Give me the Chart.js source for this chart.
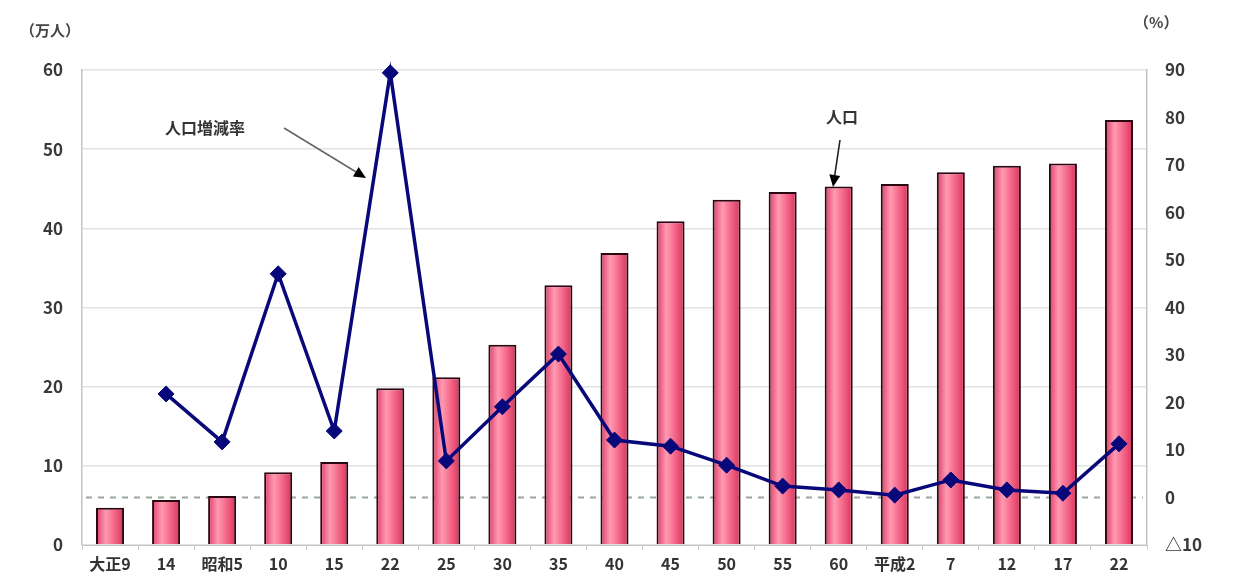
<!DOCTYPE html>
<html lang="ja">
<head>
<meta charset="utf-8">
<script src="https://cdn.jsdelivr.net/npm/chart.js@4.4.1/dist/chart.umd.min.js"></script>
<style>
  html, body { margin: 0; padding: 0; background: #fff; }
  #wrap { width: 1236px; height: 587px; }
</style>
</head>
<body>
<div id="wrap"><canvas id="c" width="1236" height="587"></canvas></div>
<script>
// 年次（国勢調査）
const categories = ['大正9', '14', '昭和5', '10', '15', '22', '25', '30', '35', '40', '45', '50', '55', '60', '平成2', '7', '12', '17', '22'];
// 人口（万人）
const population = [4.7, 5.7, 6.2, 9.2, 10.5, 19.8, 21.2, 25.3, 32.8, 36.9, 40.9, 43.6, 44.6, 45.3, 45.6, 47.1, 47.9, 48.2, 53.7];
// 人口増減率（%）
const growthRate = [null, 21.8, 11.7, 47.1, 14.0, 89.4, 7.7, 19.1, 30.2, 12.1, 10.8, 6.8, 2.4, 1.6, 0.5, 3.7, 1.6, 0.9, 11.3];
// 目盛
const leftTicks = [0, 10, 20, 30, 40, 50, 60];
const rightTicks = [-10, 0, 10, 20, 30, 40, 50, 60, 70, 80, 90];

const FONT = '"Noto Sans CJK JP", "Noto Sans", sans-serif';
const BAR_FRACTION = 0.5;

function barGradient(ctx) {
  const chart = ctx.chart;
  const xs = chart.scales.x;
  if (!xs || !chart.chartArea) return '#f06a8a';
  const cx = xs.getPixelForValue(ctx.dataIndex);
  const w = (xs.width / categories.length) * BAR_FRACTION;
  const g = chart.ctx.createLinearGradient(cx - w / 2, 0, cx + w / 2, 0);
  g.addColorStop(0, '#e03a66');
  g.addColorStop(0.35, '#ff9ab2');
  g.addColorStop(0.6, '#f7708f');
  g.addColorStop(1, '#d9305c');
  return g;
}

function arrow(c, x1, y1, x2, y2, color, head) {
  c.save();
  c.strokeStyle = color;
  c.fillStyle = '#000';
  c.lineWidth = 1.6;
  const ang = Math.atan2(y2 - y1, x2 - x1);
  const bx = x2 - head * Math.cos(ang), by = y2 - head * Math.sin(ang);
  c.beginPath(); c.moveTo(x1, y1); c.lineTo(bx, by); c.stroke();
  c.beginPath();
  c.moveTo(x2, y2);
  c.lineTo(bx + 5.5 * Math.sin(ang), by - 5.5 * Math.cos(ang));
  c.lineTo(bx - 5.5 * Math.sin(ang), by + 5.5 * Math.cos(ang));
  c.closePath(); c.fill();
  c.restore();
}

const decorations = {
  id: 'decorations',
  beforeDatasetsDraw(chart) {
    const c = chart.ctx, a = chart.chartArea;
    const y0 = chart.scales.yR.getPixelForValue(0);
    // 0% の基準線（破線）
    c.save();
    c.strokeStyle = '#9aa89a';
    c.lineWidth = 2;
    c.setLineDash([6, 6]);
    c.beginPath(); c.moveTo(a.left + 4, y0); c.lineTo(a.right - 4, y0); c.stroke();
    c.restore();
  },
  afterDraw(chart) {
    const c = chart.ctx;
    c.save();
    c.fillStyle = '#444';
    c.font = 'bold 15px ' + FONT;
    c.textBaseline = 'middle';
    c.textAlign = 'left';
    c.fillText('（万人）', 20, 30);
    c.fillText('（%）', 1134, 22);
    c.font = 'bold 16px ' + FONT;
    c.fillStyle = '#333';
    c.fillText('人口増減率', 165, 128);
    c.fillText('人口', 826, 117);
    c.restore();
    arrow(c, 284, 128, 366, 178, '#666', 12);
    arrow(c, 840, 140, 833, 187, '#222', 12);
  }
};

new Chart(document.getElementById('c'), {
  data: {
    labels: categories,
    datasets: [
      {
        type: 'line',
        label: '人口増減率',
        data: growthRate,
        yAxisID: 'yR',
        borderColor: '#08087a',
        backgroundColor: '#08087a',
        borderWidth: 3.5,
        pointStyle: 'rectRot',
        pointRadius: 8,
        pointBorderWidth: 1,
        tension: 0,
        clip: false,
        order: 0
      },
      {
        type: 'bar',
        label: '人口',
        data: population,
        yAxisID: 'yL',
        backgroundColor: barGradient,
        borderColor: '#2a0610',
        borderWidth: 2,
        barPercentage: BAR_FRACTION,
        categoryPercentage: 1,
        order: 1
      }
    ]
  },
  options: {
    responsive: false,
    animation: false,
    layout: { padding: { top: 70, left: 0, right: 0, bottom: 0 } },
    plugins: { legend: { display: false }, tooltip: { enabled: false } },
    scales: {
      x: {
        grid: { display: true, drawOnChartArea: false, offset: true, tickLength: 5, color: '#d0d0d0' },
        border: { color: '#c4c4c4' },
        ticks: { font: { size: 16, family: FONT, weight: 'bold' }, color: '#333', padding: 4, maxRotation: 0, autoSkip: false },
        afterFit(s) { s.height = 42; }
      },
      yL: {
        position: 'left',
        min: 0, max: 60,
        afterBuildTicks(s) { s.ticks = leftTicks.map(v => ({ value: v })); },
        grid: { color: '#e2e2e2', drawTicks: false, lineWidth: 1.5 },
        border: { color: '#c4c4c4', width: 1.5 },
        ticks: { font: { size: 17, family: FONT, weight: 'bold' }, color: '#3a3a3a', padding: 19 },
        afterFit(s) { s.width = 82; }
      },
      yR: {
        position: 'right',
        min: -10, max: 90,
        afterBuildTicks(s) { s.ticks = rightTicks.map(v => ({ value: v })); },
        grid: { drawOnChartArea: false, drawTicks: false },
        border: { color: '#c4c4c4', width: 1.5 },
        ticks: {
          font: { size: 17, family: FONT, weight: 'bold' }, color: '#3a3a3a', padding: 18,
          callback: v => (v < 0 ? '△' + Math.abs(v) : String(v))
        },
        afterFit(s) { s.width = 89; }
      }
    }
  },
  plugins: [decorations]
});
</script>
</body>
</html>
